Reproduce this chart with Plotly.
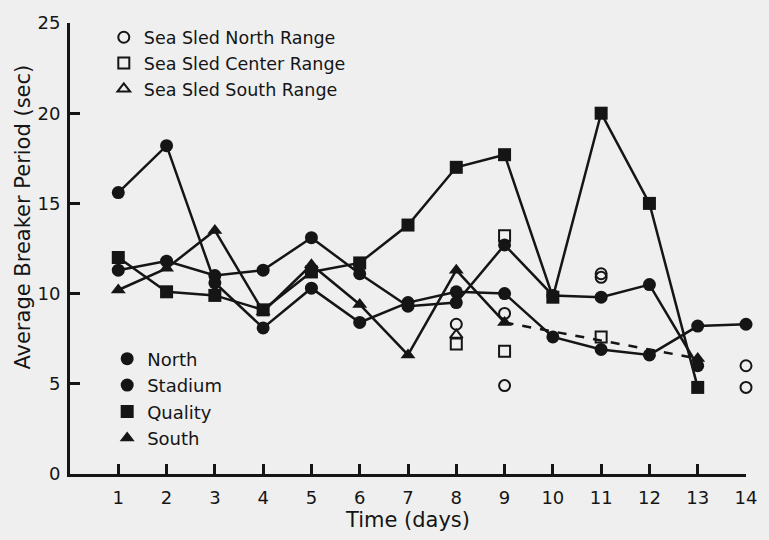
import plotly.graph_objects as go

days = list(range(1, 15))
north = [15.6, 18.2, 10.6, 8.1, 10.3, 8.4, 9.5, 10.1, 10.0, 7.6, 6.9, 6.6, 8.2, 8.3]
stadium = [11.3, 11.8, 11.0, 11.3, 13.1, 11.1, 9.3, 9.5, 12.7, 9.9, 9.8, 10.5, 6.0, None]
quality = [12.0, 10.1, 9.9, 9.1, 11.2, 11.7, 13.8, 17.0, 17.7, 9.8, 20.0, 15.0, 4.8, None]
south = [10.2, 11.4, 13.5, 9.0, 11.6, 9.4, 6.6, 11.3, 8.4, None, None, None, 6.4, None]

sled_north_days = [8, 9, 9, 11, 11, 14, 14]
sled_north_vals = [8.3, 8.9, 4.9, 10.9, 11.1, 6.0, 4.8]
sled_center_days = [8, 9, 9, 11]
sled_center_vals = [7.2, 13.2, 6.8, 7.6]
sled_south_days = [8]
sled_south_vals = [7.7]

x_ticks = list(range(1, 15))
y_ticks = [0, 5, 10, 15, 20, 25]

INK = "#151515"
BG = "#efefef"
FONT = "DejaVu Sans"

fig = go.Figure()

def solid(name, y, symbol):
    fig.add_trace(go.Scatter(
        x=days, y=y, mode="lines+markers", name=name, showlegend=False,
        line=dict(color=INK, width=2.5),
        marker=dict(symbol=symbol, size=13, color=INK),
        cliponaxis=False, connectgaps=False))

solid("North", north, "circle")
solid("Stadium", stadium, "circle")
solid("Quality", quality, "square")
solid("South", south, "triangle-up")

# dashed South connection across the missing days
dash_days = [days[8], days[12]]
dash_vals = [south[8], south[12]]
fig.add_trace(go.Scatter(
    x=dash_days, y=dash_vals, mode="lines", showlegend=False,
    line=dict(color=INK, width=2.5, dash="dash"), cliponaxis=False))

def openm(name, xd, yd, symbol):
    fig.add_trace(go.Scatter(
        x=xd, y=yd, mode="markers", name=name, showlegend=False,
        marker=dict(symbol=symbol + "-open", size=11, color=INK, line=dict(width=2)),
        cliponaxis=False))

openm("Sea Sled North Range", sled_north_days, sled_north_vals, "circle")
openm("Sea Sled Center Range", sled_center_days, sled_center_vals, "square")
openm("Sea Sled South Range", sled_south_days, sled_south_vals, "triangle-up")

# legend entries
for i, (nm, sym) in enumerate([("Sea Sled North Range", "circle-open"),
                               ("Sea Sled Center Range", "square-open"),
                               ("Sea Sled South Range", "triangle-up-open")]):
    fig.add_trace(go.Scatter(
        x=[None], y=[None], mode="markers", name=nm, legend="legend",
        legendgroup="a%d" % i,
        marker=dict(symbol=sym, size=11, color=INK, line=dict(width=2))))

for i, (nm, sym) in enumerate([("North", "circle"), ("Stadium", "circle"),
                               ("Quality", "square"), ("South", "triangle-up")]):
    fig.add_trace(go.Scatter(
        x=[None], y=[None], mode="markers", name=nm, legend="legend2",
        legendgroup="b%d" % i,
        marker=dict(symbol=sym, size=13, color=INK)))

fig.add_annotation(text="Average Breaker Period (sec)", textangle=-90,
                   xref="paper", yref="paper", x=-0.07, y=0.57,
                   xanchor="center", yanchor="middle", showarrow=False,
                   font=dict(size=21, family=FONT, color=INK))

fig.update_layout(
    width=769, height=540,
    margin=dict(l=70, r=16, t=20, b=64),
    paper_bgcolor=BG, plot_bgcolor=BG,
    font=dict(family=FONT, color=INK, size=17),
    legend=dict(x=0.05, y=1.008, xanchor="left", yanchor="top",
                bgcolor="rgba(0,0,0,0)", font=dict(size=17.5, family=FONT, color=INK),
                tracegroupgap=0, itemclick=False),
    legend2=dict(x=0.055, y=0.296, xanchor="left", yanchor="top",
                 bgcolor="rgba(0,0,0,0)", font=dict(size=18, family=FONT, color=INK),
                 tracegroupgap=0, itemclick=False),
    xaxis=dict(range=[0, 14], tickvals=x_ticks, ticktext=[str(v) for v in x_ticks],
               showgrid=False, zeroline=False, showline=True, linecolor=INK, linewidth=3,
               ticks="inside", ticklen=10, tickwidth=2.5, tickcolor=INK,
               tickfont=dict(size=18), ticklabelstandoff=5,
               title=dict(text="Time (days)", font=dict(size=21), standoff=6)),
    yaxis=dict(range=[0, 25], tickvals=y_ticks,
               showgrid=False, zeroline=False, showline=True, linecolor=INK, linewidth=3,
               ticks="inside", ticklen=10, tickwidth=2.5, tickcolor=INK,
               tickfont=dict(size=18), ticklabelstandoff=3),
)

fig.write_html("out.html")
